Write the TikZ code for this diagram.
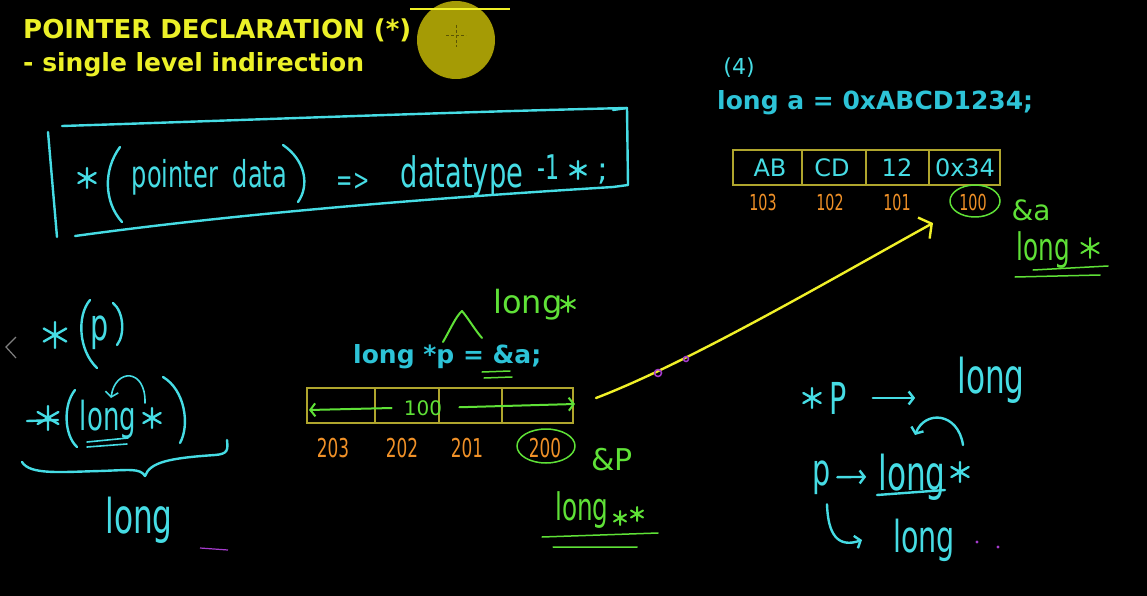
\documentclass[tikz,border=0pt]{standalone}
\usepackage{fontspec}
\setmainfont{DejaVu Sans}
\usepackage{graphicx}
\usepackage{tikz}
\usetikzlibrary{arrows.meta}

\definecolor{penCyan}{RGB}{70,220,228}
\definecolor{codeCyan}{RGB}{45,195,215}
\definecolor{titleYellow}{RGB}{236,240,40}
\definecolor{penGreen}{RGB}{95,225,55}
\definecolor{penOrange}{RGB}{240,145,40}
\definecolor{gridYellow}{RGB}{175,165,45}
\definecolor{lineYellow}{RGB}{240,240,40}
\definecolor{spotYellow}{RGB}{165,155,5}
\definecolor{penPurple}{RGB}{165,60,205}

% handwriting is narrow
\newcommand{\hw}[1]{\scalebox{0.65}[1]{#1}}

\tikzset{
  hstar/.pic={\draw (90:10) -- (270:10) (30:10) -- (210:10) (150:10) -- (330:10);}
}

\begin{document}
\begin{tikzpicture}[x=1pt, y=-1pt,
    >={Straight Barb[length=5pt,width=13pt]},
    title/.style={text=titleYellow, font=\fontsize{26}{26}\selectfont\bfseries, anchor=base west, inner sep=0pt},
    code/.style={text=codeCyan, font=\fontsize{25}{25}\selectfont\bfseries, anchor=base west, inner sep=0pt},
    hand/.style={text=penCyan, inner sep=0pt, anchor=base, font=\fontsize{#1}{#1}\selectfont},
    ghand/.style={text=penGreen, inner sep=0pt, anchor=base, font=\fontsize{#1}{#1}\selectfont},
    addr/.style={text=penOrange, inner sep=0pt, anchor=base, font=\fontsize{#1}{#1}\selectfont},
    cyanpen/.style={penCyan, line width=2.4pt, line cap=round, line join=round},
    greenpen/.style={penGreen, line width=2pt, line cap=round, line join=round},
    cellline/.style={gridYellow, line width=1.2pt},
    yellowarrow/.style={lineYellow, line width=2.4pt, line cap=round, -{Straight Barb[length=9pt,width=24pt]}}]

    \fill[black] (0,0) rectangle (1147,596);
    \useasboundingbox (0,0) rectangle (1147,596);

    % Title
    \node[title] (title1) at (23,39) {POINTER DECLARATION (*)};
    \node[title, font=\fontsize{25}{25}\selectfont\bfseries] (title2) at (23,72) {- single level indirection};

    % Pointer spot
    \fill[spotYellow] (456,40) circle (39);
    \draw[lineYellow, line width=1.2pt] (410,9) -- (510,9);
    \draw[black!45!spotYellow, line width=0.8pt, dash pattern=on 3pt off 2pt] (446,35) -- (466,35) (456,25) -- (456,47);
    \draw[gray, line width=1.2pt] (16,337) -- (6,347) -- (16,358);

    % Rule box
    \draw[cyanpen] (48,132) -- (57,237);
    \draw[cyanpen] (62,126) .. controls (250,120) and (450,112) .. (627,108);
    \draw[cyanpen] (613,110) -- (627,108) -- (628,185) -- (613,187);
    \draw[cyanpen] (75,236) .. controls (250,212) and (450,197) .. (613,187);
    \pic[cyanpen] at (87,178) {hstar};
    \draw[cyanpen] (120,147) .. controls (103,170) and (104,202) .. (122,222);
    \node[hand=37] (ptr) at (175,187) {\hw{pointer}};
    \node[hand=37] (dat) at (260,187) {\hw{data}};
    \draw[cyanpen] (283,145) .. controls (305,160) and (310,185) .. (298,202);
    \node[hand=30] (impl) at (353,190) {\hw{=>}};
    \node[hand=42] (dtype) at (462,187) {\hw{datatype}};
    \node[hand=34] (minus) at (549,179) {\hw{-1}};
    \pic[cyanpen, scale=0.9] at (578,170) {hstar};
    \node[hand=32] (semi) at (603,181) {;};

    % long a
    \node[hand=22] (num) at (739,75) {(4)};
    \node[code] (adecl) at (717,110) {long a = 0xABCD1234;};
    \draw[cellline] (733,150) rectangle (1000,185);
    \foreach \x in {802,866,929}
        \draw[cellline] (\x,150) -- (\x,185);
    \foreach \t/\x [count=\i] in {AB/770,CD/832,12/897,0x34/965}
        \node[hand=24] (acell\i) at (\x,176) {\t};
    \foreach \t/\x [count=\i] in {103/763,102/830,101/897,100/973}
        \node[addr=22] (aaddr\i) at (\x,210) {\hw{\t}};
    \draw[greenpen, line width=1.5pt] (975,201) ellipse [x radius=25, y radius=16];
    \node[ghand=28] (aref) at (1031,220) {\&a};
    \node[ghand=38] (atype) at (1043,260) {\hw{long}};
    \pic[greenpen] at (1090,248) {hstar};
    \draw[greenpen, line width=1.5pt] (1033,270) -- (1108,266) (1015,277) -- (1100,275);

    % long *p
    \node[code] (pdecl) at (353,363) {long *p = \&a;};
    \draw[greenpen] (443,342) .. controls (450,330) and (456,316) .. (462,311) .. controls (468,318) and (475,330) .. (482,338);
    \node[ghand=32] (ptype) at (528,313) {long};
    \pic[greenpen, scale=0.8] at (568,304) {hstar};
    \draw[greenpen, line width=1.5pt] (482,372) -- (510,371) (484,378) -- (512,377);
    \draw[cellline] (307,388) rectangle (573,423);
    \foreach \x in {375,439,502}
        \draw[cellline] (\x,388) -- (\x,423);
    \node[ghand=20] (pval) at (423,415) {100};
    \coordinate (pL) at (309,410);
    \coordinate (pR) at (575,404);
    \draw[greenpen, ->, shorten <=12pt] (pval.west) -- (pL);
    \draw[greenpen, ->, shorten <=17pt] (pval.east) -- (pR);
    \foreach \t/\x [count=\i] in {203/333,202/402,201/467,200/545}
        \node[addr=26] (paddr\i) at (\x,457) {\hw{\t}};
    \draw[greenpen, line width=1.5pt] (546,446) ellipse [x radius=29, y radius=17];
    \node[ghand=30] (pref) at (612,470) {\&P};
    \node[ghand=38] (pptype) at (582,520) {\hw{long}};
    \pic[greenpen, scale=0.7] at (620,518) {hstar};
    \pic[greenpen, scale=0.7] at (637,514) {hstar};
    \draw[greenpen, line width=1.5pt] (542,537) -- (658,533) (553,547) -- (637,547);

    % p points to a
    \coordinate (ystart) at (596,398);
    \coordinate (yend) at (933,223);
    \draw[yellowarrow] (ystart) .. controls (690,362) and (830,280) .. (yend);
    \draw[penPurple, line width=1.5pt] (658,373) circle (3.5) (686,359) circle (2.5);

    % *(p) on the left
    \pic[cyanpen, scale=1.3] at (55,335) {hstar};
    \draw[cyanpen] (90,300) .. controls (77,315) and (78,350) .. (97,368);
    \node[hand=44] (lp) at (100,340) {\hw{p}};
    \draw[cyanpen] (113,303) .. controls (124,312) and (125,335) .. (117,345);
    \draw[cyanpen] (27,421) -- (58,420);
    \pic[cyanpen, scale=1.2] at (48,418) {hstar};
    \draw[cyanpen] (75,390) .. controls (63,405) and (64,435) .. (77,447);
    \node[hand=40] (llong) at (108,430) {\hw{long}};
    \pic[cyanpen] at (152,418) {hstar};
    \draw[cyanpen] (163,377) .. controls (185,390) and (190,425) .. (180,443);
    \draw[cyanpen, line width=1.6pt] (87,442) -- (128,438) (87,447) -- (127,444);
    \draw[cyanpen, line width=1.6pt, ->] (145,403) .. controls (146,368) and (115,368) .. (111,398);
    \draw[cyanpen] (22,462) .. controls (30,475) and (60,472) .. (100,471) .. controls (130,470) and (140,468) .. (145,476)
        .. controls (150,462) and (170,458) .. (215,455) .. controls (228,454) and (228,450) .. (227,440);
    \node[hand=48] (lres) at (139,533) {\hw{long}};
    \draw[penPurple, line width=1.2pt] (200,548) -- (228,550);

    % *p and p on the right
    \pic[cyanpen] at (812,398) {hstar};
    \node[hand=44] (rP) at (838,414) {\hw{P}};
    \node[hand=48] (rlong1) at (991,393) {\hw{long}};
    \draw[cyanpen, ->, shorten <=26pt, shorten >=42pt] (rP.east) -- (rlong1.west |- rP.east);
    \node[hand=44] (rp) at (822,485) {\hw{p}};
    \node[hand=48] (rlong2) at (912,490) {\hw{long}};
    \pic[cyanpen] at (960,472) {hstar};
    \draw[cyanpen] (877,495) -- (945,490);
    \draw[cyanpen, ->, shorten <=6pt, shorten >=12pt] (rp.east) -- (rlong2.west);
    \coordinate (curlS) at (963,445);
    \coordinate (curlE) at (915,435);
    \draw[cyanpen, ->] (curlS) .. controls (958,412) and (925,410) .. (curlE);
    \node[hand=44] (rlong3) at (924,552) {\hw{long}};
    \draw[cyanpen, ->] (rp.south) ++(5,10) .. controls (828,535) and (838,548) .. (862,540);
    \fill[penPurple] (977,542) circle (1.6) (998,547) circle (1.6);
\end{tikzpicture}
\end{document}
